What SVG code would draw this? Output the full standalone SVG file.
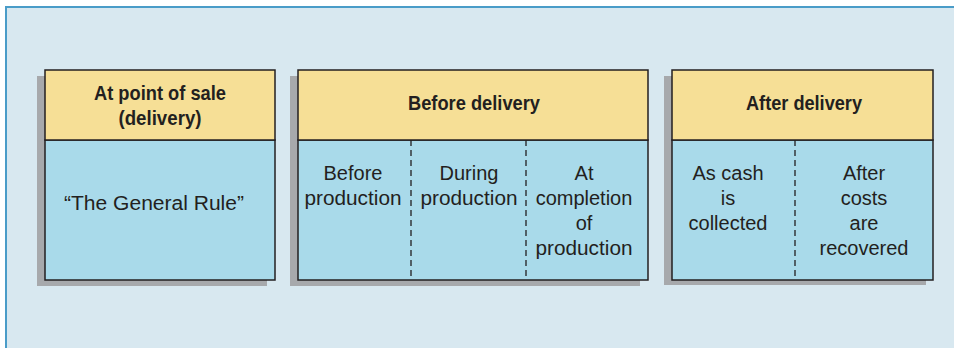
<svg xmlns="http://www.w3.org/2000/svg" width="954" height="348" viewBox="0 0 954 348">
<style>
.shadow{fill:#A7A9AC}
.head{fill:#F6DF96;stroke:#231F20;stroke-width:1.5}
.body{fill:#A9DAEA;stroke:#231F20;stroke-width:1.5}
.dash{stroke:#231F20;stroke-width:1.3;stroke-dasharray:6,4;fill:none}
.h{font-family:"Liberation Sans Narrow","Liberation Sans",Arial,sans-serif;font-weight:bold;font-size:20.5px;fill:#231F20;text-anchor:middle}
.t{font-family:"Liberation Sans",Arial,sans-serif;font-size:20px;fill:#231F20;text-anchor:middle}
</style>
<rect x="0" y="0" width="954" height="348" fill="#FFFFFF"/>
<rect x="6" y="7" width="960" height="360" fill="#D8E8F0" stroke="#4A9CC8" stroke-width="2"/>
<g id="node-point-of-sale">
<rect class="shadow" x="37" y="76" width="230" height="210"/>
<rect class="body" x="45" y="140" width="230" height="140"/>
<rect class="head" x="45" y="70" width="230" height="70"/>
<text class="h" x="160" y="100" textLength="132" lengthAdjust="spacingAndGlyphs">At point of sale</text>
<text class="h" x="160" y="125" textLength="83" lengthAdjust="spacingAndGlyphs">(delivery)</text>
<text class="t" x="154" y="210" textLength="180" lengthAdjust="spacingAndGlyphs">“The General Rule”</text>
</g>
<g id="node-before-delivery">
<rect class="shadow" x="290" y="76" width="350" height="210"/>
<rect class="body" x="298" y="140" width="350" height="140"/>
<rect class="head" x="298" y="70" width="350" height="70"/>
<line class="dash" x1="411" y1="140" x2="411" y2="280"/>
<line class="dash" x1="526" y1="140" x2="526" y2="280"/>
<text class="h" x="474" y="110" textLength="132" lengthAdjust="spacingAndGlyphs">Before delivery</text>
<text class="t" x="353" y="180">Before</text>
<text class="t" x="353" y="205" textLength="97" lengthAdjust="spacingAndGlyphs">production</text>
<text class="t" x="469" y="180">During</text>
<text class="t" x="469" y="205" textLength="97" lengthAdjust="spacingAndGlyphs">production</text>
<text class="t" x="584" y="180">At</text>
<text class="t" x="584" y="205">completion</text>
<text class="t" x="584" y="230">of</text>
<text class="t" x="584" y="255" textLength="97" lengthAdjust="spacingAndGlyphs">production</text>
</g>
<g id="node-after-delivery">
<rect class="shadow" x="664" y="76" width="262" height="209"/>
<rect class="body" x="672" y="140" width="261" height="140"/>
<rect class="head" x="672" y="70" width="261" height="70"/>
<line class="dash" x1="795" y1="140" x2="795" y2="280"/>
<text class="h" x="804" y="110" textLength="116" lengthAdjust="spacingAndGlyphs">After delivery</text>
<text class="t" x="728" y="180">As cash</text>
<text class="t" x="728" y="205">is</text>
<text class="t" x="728" y="230">collected</text>
<text class="t" x="864" y="180">After</text>
<text class="t" x="864" y="205">costs</text>
<text class="t" x="864" y="230">are</text>
<text class="t" x="864" y="255">recovered</text>
</g>
<g id="connectors"></g>
</svg>
